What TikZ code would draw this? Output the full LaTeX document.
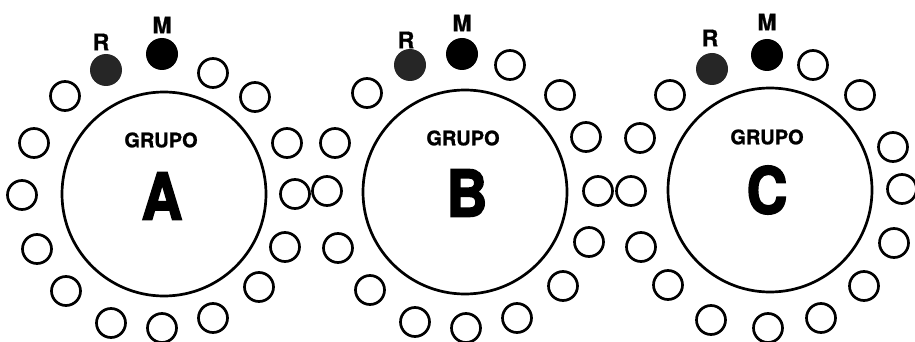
\documentclass[tikz,border=0pt]{standalone}
\usepackage{fontspec}
\setmainfont{TeX Gyre Heros}
\newfontfamily\heavyfont[BoldFont={* Bold},BoldFeatures={FakeBold=3}]{TeX Gyre Heros}
\newfontfamily\semifont[BoldFont={* Bold},BoldFeatures={FakeBold=1}]{TeX Gyre Heros}
\begin{document}
\begin{tikzpicture}[x=1pt,y=-1pt,
  seat/.style={circle,draw=black,line width=2.7pt,minimum size=29pt,inner sep=0pt},
  seatM/.style={circle,fill=black,minimum size=32pt,inner sep=0pt},
  seatR/.style={circle,fill=black!85,minimum size=32pt,inner sep=0pt},
  table/.style={circle,draw=black,line width=2.7pt,minimum size=204pt,inner sep=0pt},
  grupo/.style={font=\semifont\bfseries\fontsize{20}{20}\selectfont,inner sep=0pt},
  big/.style={font=\heavyfont\bfseries\fontsize{64}{64}\selectfont,inner sep=0pt,xscale=0.88},
  lbl/.style={font=\semifont\bfseries\fontsize{23}{23}\selectfont,inner sep=0pt}]
\useasboundingbox (0,0) rectangle (915,342);
% Group A
\node[table] (tA) at (164,194) {};
\node[grupo] (gA) at (161,140) {GRUPO};
\node[big] (bA) at (162,196) {A};
\node[seatM] (mA) at (162,54) {};
\node[seatR] (rA) at (106,70) {};
\node[lbl] (lmA) at (162,25) {M};
\node[lbl] (lrA) at (101,42) {R};
\foreach \p [count=\i] in {(213,73),(255,97),(287,143),(295,194),(285,247),(259,287),(213,318),(162,328),(111,323),(66,291),(37,249),(22,195),(34,143),(65,96)}
  \node[seat] (sA-\i) at \p {};
% Group B
\node[table] (tB) at (465,192) {};
\node[grupo] (gB) at (463,138) {GRUPO};
\node[big] (bB) at (467,193) {B};
\node[seatM] (mB) at (462,54) {};
\node[seatR] (rB) at (410,65) {};
\node[lbl] (lmB) at (462,23) {M};
\node[lbl] (lrB) at (406,40) {R};
\foreach \p [count=\i] in {(510,65),(560,95),(586,137),(598,191),(589,242),(563,286),(517,318),(466,328),(415,322),(370,290),(338,248),(327,191),(335,143),(367,93)}
  \node[seat] (sB-\i) at \p {};
% Group C
\node[table] (tC) at (770,190) {};
\node[grupo] (gC) at (767,137) {GRUPO};
\node[big] (bC) at (767,190) {C};
\node[seatM] (mC) at (767,55) {};
\node[seatR] (rC) at (712,69) {};
\node[lbl] (lmC) at (767,22) {M};
\node[lbl] (lrC) at (710,38) {R};
\foreach \p [count=\i] in {(813,65),(860,95),(893,147),(902,189),(894,243),(864,286),(821,318),(768,328),(711,320),(668,285),(641,247),(631,191),(640,138),(670,95)}
  \node[seat] (sC-\i) at \p {};
\end{tikzpicture}
\end{document}
